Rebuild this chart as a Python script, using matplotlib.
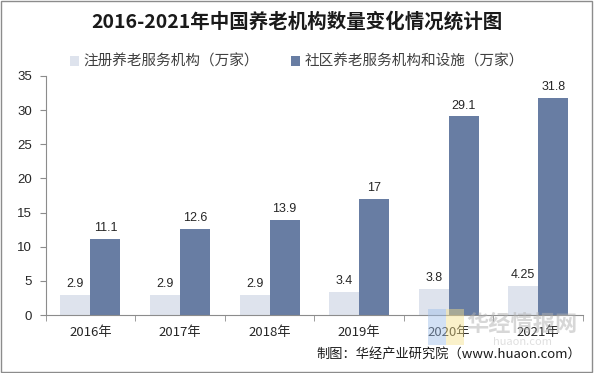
import numpy as np
import matplotlib.pyplot as plt
from matplotlib.patches import Rectangle

plt.rcParams['font.family'] = ['Noto Sans CJK SC', 'DejaVu Sans']

years = ['2016年', '2017年', '2018年', '2019年', '2020年', '2021年']
registered = [2.9, 2.9, 2.9, 3.4, 3.8, 4.25]
community = [11.1, 12.6, 13.9, 17, 29.1, 31.8]
labels_reg = ['2.9', '2.9', '2.9', '3.4', '3.8', '4.25']
labels_com = ['11.1', '12.6', '13.9', '17', '29.1', '31.8']

light = '#DEE3ED'
dark = '#687DA3'
axis_grey = '#8C8C8C'

fig = plt.figure(figsize=(5.94, 3.73), dpi=100)
ax = fig.add_axes([45.6 / 594, 1 - 315 / 373, (583 - 45.6) / 594, (315 - 76) / 373])

x = np.arange(len(years))
w = 0.335
ax.bar(x - w / 2, registered, w, color=light, label='注册养老服务机构（万家）')
ax.bar(x + w / 2, community, w, color=dark, label='社区养老服务机构和设施（万家）')

for i in range(len(years)):
    ax.text(x[i] - w / 2, registered[i] + 0.7, labels_reg[i], ha='center', va='bottom',
            fontsize=9, color='#262626', family='Liberation Sans')
    ax.text(x[i] + w / 2, community[i] + 0.7, labels_com[i], ha='center', va='bottom',
            fontsize=9, color='#262626', family='Liberation Sans')

ax.set_xlim(-0.5, len(years) - 0.5)
ax.set_ylim(0, 35)
ax.set_yticks(range(0, 36, 5))
ax.set_yticklabels([str(v) for v in range(0, 36, 5)], family='Liberation Sans', fontsize=9.5)
ax.set_xticks(x)
ax.set_xticklabels(years, fontsize=9.5)
ax.set_xticks(np.arange(-0.5, len(years), 1), minor=True)
ax.tick_params(axis='x', which='major', length=0, pad=8, colors='#262626')
ax.tick_params(axis='x', which='minor', length=4, color=axis_grey)
ax.tick_params(axis='y', length=4, color=axis_grey, labelcolor='#262626', pad=6)
for s in ['top', 'right']:
    ax.spines[s].set_visible(False)
for s in ['left', 'bottom']:
    ax.spines[s].set_color(axis_grey)
    ax.spines[s].set_linewidth(0.8)

fig.text(0.5, 1 - 22 / 373, '2016-2021年中国养老机构数量变化情况统计图', ha='center', va='center',
         fontsize=14, fontweight='bold', color='#1a1a1a')
fig.legend(loc='center', bbox_to_anchor=(0.5, 1 - 62 / 373), ncol=2, frameon=False,
           fontsize=10.5, handlelength=0.6, handleheight=0.6, handletextpad=0.3,
           columnspacing=2.2, labelcolor='#404040')

# watermark (faint, as in the reference)
fig.add_artist(Rectangle((428 / 594, 1 - 345 / 373), 18 / 594, 36 / 373, transform=fig.transFigure,
                         color='#9DBEEA', alpha=0.45, lw=0))
fig.add_artist(Rectangle((446 / 594, 1 - 345 / 373), 18 / 594, 36 / 373, transform=fig.transFigure,
                         color='#F5E08A', alpha=0.45, lw=0))
fig.text(522 / 594, 1 - 324 / 373, '华经情报网', ha='center', va='center', fontsize=16,
         fontweight='bold', color='#B0B0B0', alpha=0.5)
fig.text(522 / 594, 1 - 342 / 373, 'huaon.com', ha='center', va='center', fontsize=8,
         color='#B0B0B0', alpha=0.4)

fig.text(581 / 594, 1 - 354 / 373, '制图：华经产业研究院（www.huaon.com）', ha='right', va='center',
         fontsize=9.5, color='#1a1a1a')

fig.add_artist(Rectangle((0.002, 0.003), 0.995, 0.994, transform=fig.transFigure,
                         fill=False, edgecolor='#8C8C8C', linewidth=1))

fig.savefig('out.png', dpi=100)
